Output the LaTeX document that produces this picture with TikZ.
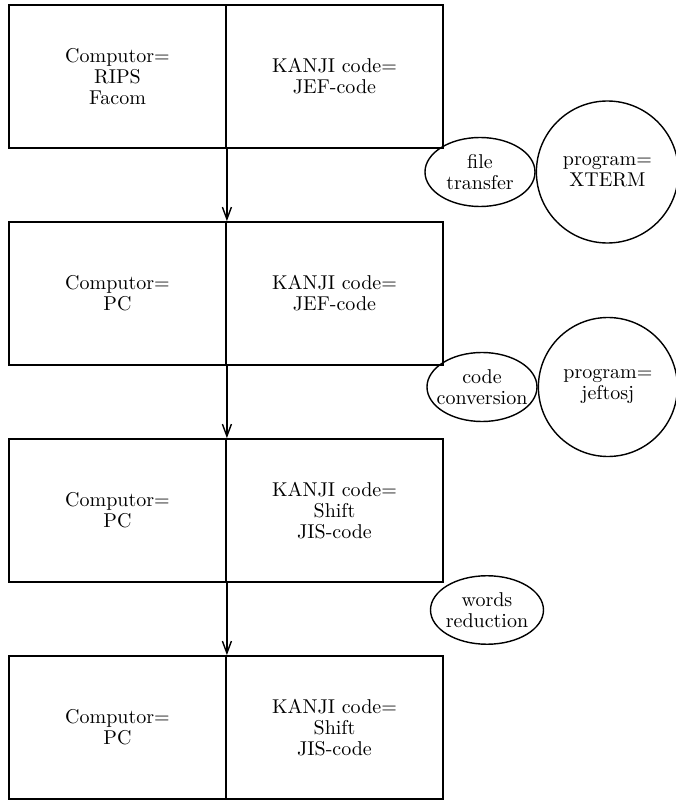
\documentclass[tikz,border=0pt]{standalone}
\usepackage{tikz}
\usetikzlibrary{arrows.meta,positioning,shapes.geometric}
\usepackage{amsmath}

\begin{document}
\begin{tikzpicture}[>={Straight Barb[length=6pt,width=4.5pt]},shorten >=0pt,x=0.5pt,y=0.5pt,
                    node distance=108.5pt,font=\fontsize{10}{10.5}\selectfont,
                    half/.style={draw,rectangle,line width=0.9pt,minimum width=108.5pt,minimum height=71.5pt,inner sep=0pt,align=center},
                    task/.style={draw,ellipse,line width=0.7pt,minimum width=55pt,minimum height=34.5pt,inner xsep=-4pt,align=center},
                    prog/.style={draw,circle,line width=0.7pt,minimum size=71pt,inner sep=0pt,align=center}]
                  \useasboundingbox (0,0) rectangle (676,800);

                  \node[half]           (c1) at (117.5,723.5) {Computor=\\RIPS\\Facom};
                  \node[half]           (k1) [right of=c1] {KANJI code=\\JEF-code};
                  \node[half]           (c2) [below of=c1] {Computor=\\PC};
                  \node[half]           (k2) [right of=c2] {KANJI code=\\JEF-code};
                  \node[half]           (c3) [below of=c2] {Computor=\\PC};
                  \node[half]           (k3) [right of=c3] {KANJI code=\\Shift\\JIS-code};
                  \node[half]           (c4) [below of=c3] {Computor=\\PC};
                  \node[half]           (k4) [right of=c4] {KANJI code=\\Shift\\JIS-code};

                  \node[task]           (f1) at (480,628) {file\\transfer};
                  \node[prog]           (p1) [right=0pt of f1] {program=\\XTERM};
                  \node[task]           (f2) at (482,413) {code\\conversion};
                  \node[prog,minimum size=69.5pt] (p2) [right=0pt of f2] {program=\\jeftosj};
                  \node[task,minimum width=56.5pt,minimum height=32pt] (f3) at (487,190) {words\\reduction};

                      \draw[line width=0.7pt]
                               (c1.south east) edge [->] (c2.north east)
                               (c2.south east) edge [->] (c3.north east)
                               (c3.south east) edge [->] (c4.north east);
        \end{tikzpicture}
\end{document}
